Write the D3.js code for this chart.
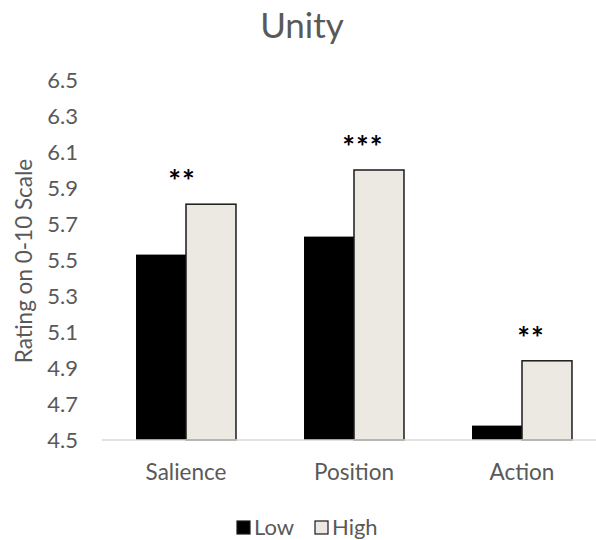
<!DOCTYPE html>
<html>
<head>
<meta charset="utf-8">
<script src="https://cdn.jsdelivr.net/npm/d3@7"></script>
<style>
  html, body { margin: 0; padding: 0; background: #fff; }
  svg { display: block; }
  text { font-family: Lato, "Open Sans", sans-serif; }
</style>
</head>
<body>
<svg id="chart" width="596" height="540"></svg>
<script>
const categories = ["Salience", "Position", "Action"];
const seriesNames = ["Low", "High"];
const lowValues = [5.53, 5.63, 4.58];
const highValues = [5.81, 6.00, 4.94];
const significance = ["**", "***", "**"];
const yTicks = [4.5, 4.7, 4.9, 5.1, 5.3, 5.5, 5.7, 5.9, 6.1, 6.3, 6.5];
const title = "Unity";
const yLabel = "Rating on 0-10 Scale";

const svg = d3.select("#chart");
const textColor = "#595959";
const fills = { Low: "#000000", High: "#ece9e2" };

const y = d3.scaleLinear().domain([4.5, 6.5]).range([440, 80]);
const x0 = d3.scaleBand().domain(categories).range([102, 606]).paddingInner(0.405).paddingOuter(0.2025);
const x1 = d3.scaleBand().domain(seriesNames).range([0, x0.bandwidth()]);

// title
svg.append("text").attr("x", 302).attr("y", 38).attr("text-anchor", "middle")
  .attr("font-size", 35).attr("fill", textColor).text(title);

// y axis (labels only)
const yAxis = d3.axisLeft(y).tickValues(yTicks).tickFormat(d3.format(".1f")).tickSize(0).tickPadding(0);
const yg = svg.append("g").attr("transform", "translate(78,0)").call(yAxis);
yg.select(".domain").remove();
yg.selectAll("text").attr("font-size", 22).attr("fill", textColor)
  .attr("font-family", "Lato, 'Open Sans', sans-serif");

// y label
svg.append("text").attr("transform", "translate(32,261) rotate(-90)")
  .attr("text-anchor", "middle").attr("font-size", 22.5).attr("fill", textColor).text(yLabel);

// bars
const data = categories.map((c, i) => ({ cat: c, vals: [
  { s: "Low", v: lowValues[i] }, { s: "High", v: highValues[i] }] }));

const groups = svg.append("g").selectAll("g").data(data).join("g")
  .attr("transform", d => `translate(${x0(d.cat)},0)`);
groups.selectAll("rect").data(d => d.vals).join("rect")
  .attr("x", d => x1(d.s)).attr("width", x1.bandwidth())
  .attr("y", d => y(d.v)).attr("height", d => y(4.5) - y(d.v))
  .attr("fill", d => fills[d.s])
  .attr("stroke", d => d.s === "High" ? "#1a1a1a" : "none")
  .attr("stroke-width", 1.5);

// x axis line
const xAxis = d3.axisBottom(x0).tickSize(0).tickPadding(24);
const xg = svg.append("g").attr("transform", "translate(0,440)").call(xAxis);
xg.select(".domain").attr("stroke", "#d9d9d9").attr("stroke-width", 1.5)
  .attr("d", "M102,0H606");
xg.selectAll("text").attr("font-size", 22.5).attr("fill", textColor)
  .attr("font-family", "Lato, 'Open Sans', sans-serif");

// significance markers
const sigOffsets = [-4, 9, 9];
svg.append("g").selectAll("text").data(categories).join("text")
  .attr("x", (c, i) => x0(c) + x0.bandwidth() / 2 + sigOffsets[i])
  .attr("y", (c, i) => y(highValues[i]) - 12)
  .attr("text-anchor", "middle").attr("font-size", 30).attr("font-weight", "bold")
  .attr("fill", "#000").attr("letter-spacing", 1)
  .text((c, i) => significance[i]);

// legend
const legend = svg.append("g");
const legendItems = [
  { s: "Low", x: 237 }, { s: "High", x: 315 }];
legendItems.forEach(it => {
  legend.append("rect").attr("x", it.x).attr("y", 521).attr("width", 13).attr("height", 13)
    .attr("fill", fills[it.s]).attr("stroke", "#1a1a1a").attr("stroke-width", 1.2);
  legend.append("text").attr("x", it.x + 17).attr("y", 535).attr("font-size", 22)
    .attr("fill", textColor).text(it.s);
});
</script>
</body>
</html>
